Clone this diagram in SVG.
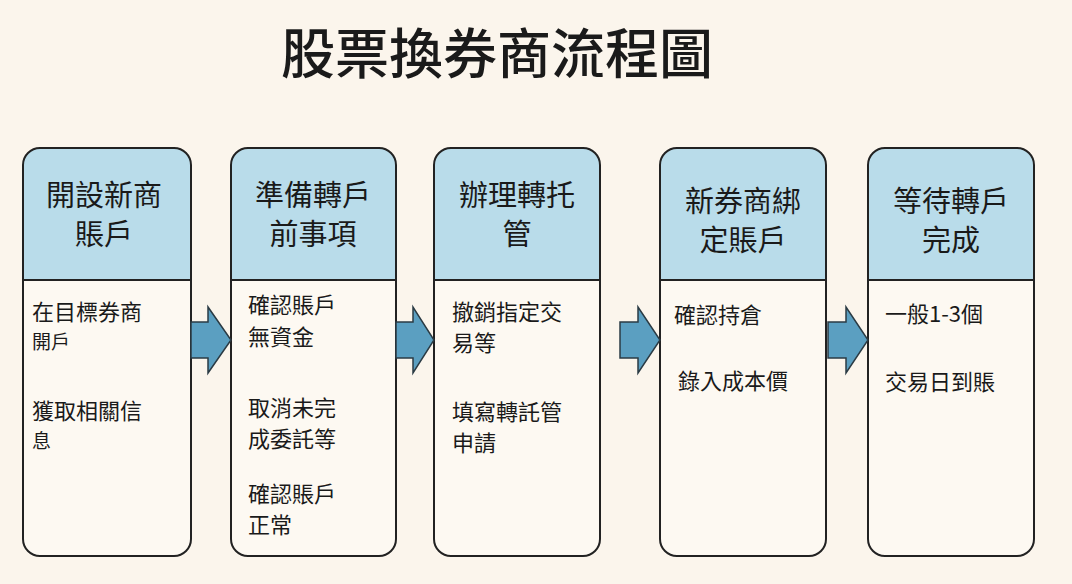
<svg xmlns="http://www.w3.org/2000/svg" width="1072" height="584" viewBox="0 0 1072 584">
<style>
text{font-family:"Noto Sans CJK TC","Noto Sans CJK SC",sans-serif;fill:#1a1a1a}
.card{fill:none;stroke:#222;stroke-width:2}
.head{fill:#b9dcea}
.h{font-size:29px;text-anchor:middle}
.b{font-size:22px}
.s{font-size:19px}
.arr{fill:#5b9fc1;stroke:#2b3b44;stroke-width:1.5;stroke-linejoin:miter}
</style>
<rect width="1072" height="584" fill="#fbf5ec"/>
<text x="497" y="74" font-size="54" font-weight="500" text-anchor="middle">股票換券商流程圖</text>
<g id="n1">
<rect x="23" y="148" width="168" height="408" rx="17" fill="#fdf9f2"/>
<path class="head" d="M23,280 V165 a17,17 0 0 1 17,-17 H174 a17,17 0 0 1 17,17 V280 Z"/>
<rect class="card" x="23" y="148" width="168" height="408" rx="17"/>
<line x1="23" y1="280" x2="191" y2="280" stroke="#222" stroke-width="2"/>
<text class="h" x="104" y="206">開設新商</text><text class="h" x="104" y="245">賬戶</text>
<text class="b" x="32" y="320">在目標券商</text><text class="s" x="32" y="349">開戶</text>
<text class="b" x="32" y="419">獲取相關信</text><text class="s" x="32" y="448">息</text>
</g>
<g id="n2">
<rect x="231" y="148" width="165" height="408" rx="17" fill="#fdf9f2"/>
<path class="head" d="M231,280 V165 a17,17 0 0 1 17,-17 H379 a17,17 0 0 1 17,17 V280 Z"/>
<rect class="card" x="231" y="148" width="165" height="408" rx="17"/>
<line x1="231" y1="280" x2="396" y2="280" stroke="#222" stroke-width="2"/>
<text class="h" x="313" y="206">準備轉戶</text><text class="h" x="313" y="245">前事項</text>
<text class="b" x="248" y="313">確認賬戶</text><text class="b" x="248" y="345">無資金</text>
<text class="b" x="248" y="416">取消未完</text><text class="b" x="248" y="447">成委託等</text>
<text class="b" x="248" y="502">確認賬戶</text><text class="b" x="248" y="533">正常</text>
</g>
<g id="n3">
<rect x="434" y="148" width="166" height="408" rx="17" fill="#fdf9f2"/>
<path class="head" d="M434,280 V165 a17,17 0 0 1 17,-17 H583 a17,17 0 0 1 17,17 V280 Z"/>
<rect class="card" x="434" y="148" width="166" height="408" rx="17"/>
<line x1="434" y1="280" x2="600" y2="280" stroke="#222" stroke-width="2"/>
<text class="h" x="517" y="206">辦理轉托</text><text class="h" x="517" y="245">管</text>
<text class="b" x="452" y="320">撤銷指定交</text><text class="b" x="452" y="351">易等</text>
<text class="b" x="452" y="420">填寫轉託管</text><text class="b" x="452" y="451">申請</text>
</g>
<g id="n4">
<rect x="660" y="148" width="166" height="408" rx="17" fill="#fdf9f2"/>
<path class="head" d="M660,280 V165 a17,17 0 0 1 17,-17 H809 a17,17 0 0 1 17,17 V280 Z"/>
<rect class="card" x="660" y="148" width="166" height="408" rx="17"/>
<line x1="660" y1="280" x2="826" y2="280" stroke="#222" stroke-width="2"/>
<text class="h" x="743" y="212">新券商綁</text><text class="h" x="743" y="251">定賬戶</text>
<text class="b" x="674" y="323">確認持倉</text>
<text class="b" x="678" y="389">錄入成本價</text>
</g>
<g id="n5">
<rect x="868" y="148" width="166" height="408" rx="17" fill="#fdf9f2"/>
<path class="head" d="M868,280 V165 a17,17 0 0 1 17,-17 H1017 a17,17 0 0 1 17,17 V280 Z"/>
<rect class="card" x="868" y="148" width="166" height="408" rx="17"/>
<line x1="868" y1="280" x2="1034" y2="280" stroke="#222" stroke-width="2"/>
<text class="h" x="951" y="212">等待轉戶</text><text class="h" x="951" y="251">完成</text>
<text class="b" x="885" y="322">一般1-3個</text>
<text class="b" x="885" y="390">交易日到賬</text>
</g>
<g id="connectors">
<polygon class="arr" points="191,322 208,322 208,307 231,340 208,373 208,358 191,358"/>
<polygon class="arr" points="396,322 413,322 413,307 434,340 413,373 413,358 396,358"/>
<polygon class="arr" points="620,322 638,322 638,307 660,340 638,373 638,358 620,358"/>
<polygon class="arr" points="828,322 846,322 846,307 868,340 846,373 846,358 828,358"/>
</g>
</svg>
